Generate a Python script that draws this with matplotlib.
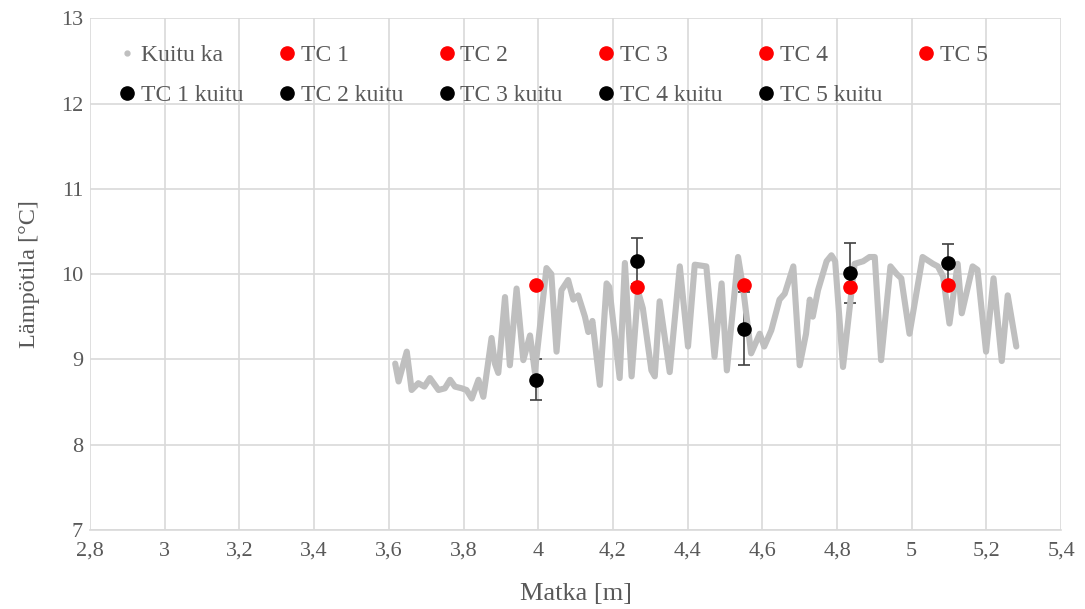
import matplotlib
matplotlib.use("Agg")
import matplotlib.pyplot as plt
from matplotlib.lines import Line2D
from matplotlib.ticker import FuncFormatter, MultipleLocator

# Kuitu ka (fibre average)
kuitu_x = [3.617, 3.626, 3.648, 3.661, 3.679, 3.695, 3.710, 3.733, 3.750, 3.764,
           3.777, 3.795, 3.808, 3.822, 3.840, 3.853, 3.875, 3.884, 3.893, 3.911,
           3.924, 3.942, 3.960, 3.978, 3.991, 4.022, 4.035, 4.049, 4.062, 4.080,
           4.094, 4.107, 4.125, 4.134, 4.145, 4.165, 4.183, 4.190, 4.218, 4.232,
           4.250, 4.267, 4.280, 4.303, 4.312, 4.325, 4.352, 4.379, 4.401, 4.419,
           4.450, 4.472, 4.491, 4.505, 4.535, 4.548, 4.570, 4.593, 4.605, 4.624,
           4.646, 4.660, 4.683, 4.700, 4.717, 4.727, 4.735, 4.749, 4.772, 4.785,
           4.795, 4.816, 4.847, 4.870, 4.887, 4.901, 4.918, 4.943, 4.960, 4.972,
           4.994, 5.029, 5.057, 5.070, 5.084, 5.101, 5.123, 5.134, 5.163, 5.176,
           5.199, 5.219, 5.241, 5.257, 5.280]
kuitu_y = [8.95, 8.74, 9.09, 8.64, 8.72, 8.68, 8.78, 8.64, 8.66, 8.76,
           8.68, 8.66, 8.64, 8.54, 8.76, 8.56, 9.25, 8.95, 8.84, 9.73,
           8.93, 9.83, 8.99, 9.28, 8.85, 10.07, 10.00, 9.09, 9.81, 9.93,
           9.70, 9.75, 9.50, 9.32, 9.45, 8.70, 9.89, 9.85, 8.78, 10.13,
           8.80, 9.80, 9.60, 8.87, 8.80, 9.68, 8.85, 10.09, 9.15, 10.11,
           10.09, 9.03, 9.89, 8.87, 10.20, 9.85, 9.07, 9.30, 9.15, 9.34,
           9.70, 9.77, 10.09, 8.93, 9.30, 9.70, 9.50, 9.81, 10.15, 10.22,
           10.15, 8.91, 10.12, 10.15, 10.20, 10.20, 8.99, 10.09, 10.00, 9.95,
           9.30, 10.20, 10.12, 10.09, 9.97, 9.42, 10.12, 9.54, 10.09, 10.05,
           9.09, 9.95, 8.98, 9.75, 9.15]

# thermocouples
tc_names = ["TC 1", "TC 2", "TC 3", "TC 4", "TC 5"]
tc_x = [3.995, 4.265, 4.551, 4.834, 5.096]
tc_y = [9.87, 9.85, 9.87, 9.85, 9.87]
# fibre value at thermocouple positions, with error
tck_y = [8.76, 10.15, 9.36, 10.01, 10.13]
tck_err = [0.24, 0.27, 0.43, 0.35, 0.22]

grey = "#BFBFBF"
txt = "#595959"
plt.rcParams['font.family'] = ['Liberation Serif', 'DejaVu Serif']

fig = plt.figure(figsize=(10.85, 6.09), dpi=100)
ax = fig.add_axes([0.083, 0.130, 0.895, 0.840])

ax.plot(kuitu_x, kuitu_y, color=grey, lw=4.4, solid_joinstyle='round',
        solid_capstyle='round', zorder=3)

for i in range(len(tc_x)):
    ax.errorbar(tc_x[i], tck_y[i], yerr=tck_err[i], fmt='none', ecolor='#404040',
                elinewidth=1.2, capsize=4.5, capthick=1.2, zorder=2)
    ax.plot(tc_x[i], tc_y[i], 'o', color='#FF0000', ms=9.5, zorder=4)
    ax.plot(tc_x[i], tck_y[i], 'o', color='black', ms=9.5, zorder=5)

ax.set_xlim(2.8, 5.4)
ax.set_ylim(7, 13)
ax.xaxis.set_major_locator(MultipleLocator(0.2))
ax.yaxis.set_major_locator(MultipleLocator(1))
fmt = FuncFormatter(lambda v, p: f"{round(v, 1):g}".replace('.', ','))
ax.xaxis.set_major_formatter(fmt)
ax.yaxis.set_major_formatter(fmt)
ax.grid(True, color="#D9D9D9", lw=1.2, zorder=0)
ax.set_axisbelow(True)
for s in ['top', 'right', 'left']:
    ax.spines[s].set_visible(False)
ax.spines['bottom'].set_color("#D9D9D9")
ax.spines['bottom'].set_linewidth(1.2)
ax.tick_params(length=0, labelsize=16, labelcolor=txt)
ax.tick_params(axis='x', pad=8.5)
ax.tick_params(axis='y', pad=5)

ax.set_xlabel("Matka [m]", fontsize=19, color=txt, labelpad=16)
ax.set_ylabel("Lämpötila [°C]", fontsize=17.5, color=txt, labelpad=15)

# legend: 2 rows x 6 columns, filled column by column
h_kuitu = Line2D([], [], ls='none', marker='o', ms=3.5, color=grey)
h_red = [Line2D([], [], ls='none', marker='o', ms=9.5, color='#FF0000') for n in tc_names]
h_blk = [Line2D([], [], ls='none', marker='o', ms=9.5, color='black') for n in tc_names]
handles = [h_kuitu]
labels = ["Kuitu ka"]
for i in range(5):
    handles += [h_blk[i], h_red[i]]
    labels += [tc_names[i] + " kuitu", tc_names[i]]
leg = ax.legend(handles, labels, ncol=6, loc='upper left', bbox_to_anchor=(0.029, 0.948),
                frameon=False, fontsize=17, handlelength=0.75, handletextpad=0.2,
                columnspacing=1.48, labelspacing=0.78, borderpad=0, borderaxespad=0)
for t in leg.get_texts():
    t.set_color(txt)

fig.savefig("out.png", dpi=100)
